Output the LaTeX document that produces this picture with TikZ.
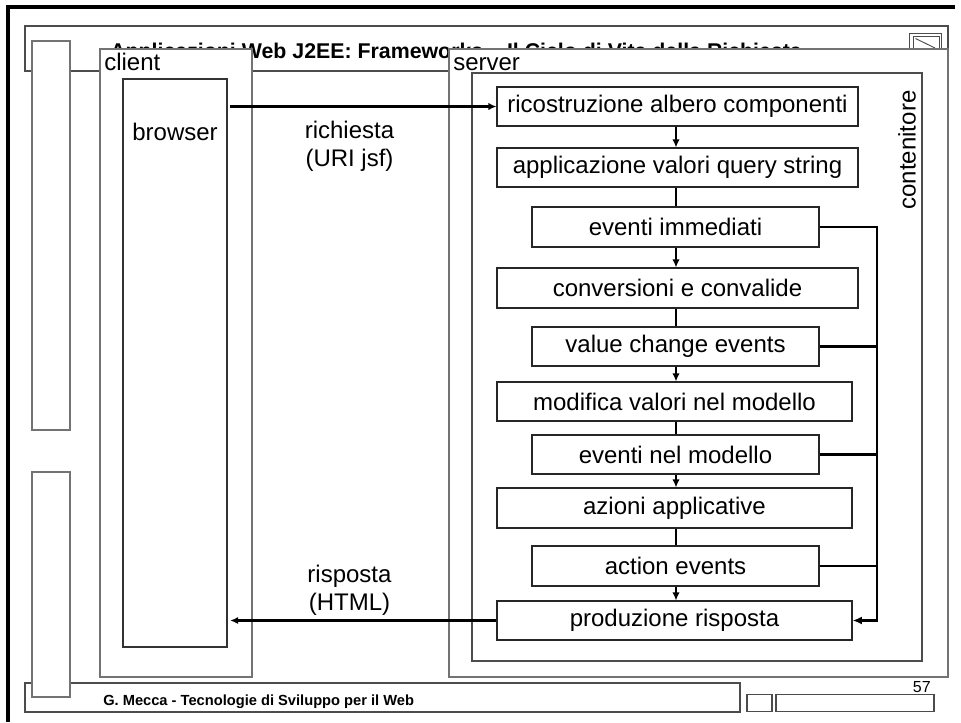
\documentclass[tikz,border=0pt]{standalone}
\usepackage{fontspec}
\setmainfont{Liberation Sans}
\usetikzlibrary{arrows.meta}
\begin{document}
\begin{tikzpicture}[x=0.75pt,y=-0.75pt,
  sz/.style 2 args={minimum width={#1*0.75pt},minimum height={#2*0.75pt}},
  frame/.style={draw=black!55,line width=0.8pt,fill=white,inner sep=0pt},
  pbox/.style={draw=black!85,line width=0.8pt,fill=white,inner sep=0pt,font=\fontsize{18}{21}\selectfont},
  txt/.style={inner sep=0pt,font=\fontsize{18}{21}\selectfont},
  flow/.style={line width=1.6pt,-{Latex[length=6pt,width=5.5pt]}},
  link/.style={line width=1.8pt},
  bus/.style={line width=2.2pt}]
\useasboundingbox (0,0) rectangle (961,722);
% outer border (top and left)
\coordinate (oTL) at (8,7);
\coordinate (oTR) at (955,7);
\coordinate (oBL) at (8,722);
\draw[line width=2.3pt] (oTR) -- (oTL) -- (oBL);
% title bar
\node[frame,draw=black!70,fill=none,sz={923}{45}] (titlebar) at (486.5,48.5) {};
\node[anchor=base west,inner sep=0pt,font=\fontsize{16}{19}\bfseries] (title) at (110,58)
  {Applicazioni Web J2EE: Frameworks -- Il Ciclo di Vita della Richiesta};
% icon
\node[draw=black!70,line width=0.7pt,sz={32}{22},inner sep=0pt] (iconA) at (925,44) {};
\node[draw=black!70,line width=0.7pt,sz={26}{16},inner sep=0pt] (iconB) at (926,44) {};
\draw[black!70,line width=0.7pt] (iconB.north west) ++(3,3) -- (935,48);
% footer
\node[frame,draw=black!70,sz={715}{29}] (footer) at (382.5,697.5) {};
\node[anchor=base west,inner sep=0pt,font=\fontsize{11}{13}\bfseries] (ftext) at (103,705)
  {G. Mecca - Tecnologie di Sviluppo per il Web};
\node[frame,draw=black!70,sz={25}{17}] (fsq) at (759.5,703) {};
\node[frame,draw=black!70,sz={158}{17}] (frect) at (855,703) {};
\node[anchor=base east,inner sep=0pt,font=\fontsize{12}{14}\selectfont] (page) at (931,692) {57};
% sidebars
\node[frame,sz={38}{389}] (side1) at (51,235.5) {};
\node[frame,sz={38}{225}] (side2) at (51,584.5) {};
% client
\node[frame,sz={152}{628}] (client) at (176,363) {};
\node[txt,anchor=base west] (clientlbl) at (104,70) {client};
\node[frame,draw=black!80,sz={104}{568}] (browser) at (175,363) {};
\node[txt] (browserlbl) at (175,132) {browser};
% server
\node[frame,sz={499}{628}] (server) at (698.5,363) {};
\node[txt,anchor=base west] (serverlbl) at (453,70) {server};
\node[frame,draw=black!70,sz={450}{588}] (cont) at (697,367) {};
\node[txt,rotate=90] (contlbl) at (907,150) {contenitore};
% process boxes
\node[pbox,sz={361}{39}] (b1) at (677.5,106.5) {ricostruzione albero componenti};
\node[pbox,sz={361}{39}] (b2) at (677.5,167.5) {applicazione valori query string};
\node[pbox,sz={287}{40}] (b3) at (675.5,227) {eventi immediati};
\node[pbox,sz={361}{40}] (b4) at (677.5,288) {conversioni e convalide};
\node[pbox,sz={287}{39}] (b5) at (675.5,346.5) {value change events};
\node[pbox,sz={355}{39}] (b6) at (674.5,401.5) {modifica valori nel modello};
\node[pbox,sz={287}{39}] (b7) at (675.5,454.5) {eventi nel modello};
\node[pbox,sz={355}{40}] (b8) at (674.5,508) {azioni applicative};
\node[pbox,sz={287}{40}] (b9) at (675.5,566) {action events};
\node[pbox,sz={355}{39}] (b10) at (674.5,620.5) {produzione risposta};
% vertical flow
\coordinate (ax) at (676,0);
\draw[flow] (b1.south -| ax) -- (b2.north -| ax);
\draw[link] (b2.south -| ax) -- (b3.north -| ax);
\draw[flow] (b3.south -| ax) -- (b4.north -| ax);
\draw[link] (b4.south -| ax) -- (b5.north -| ax);
\draw[flow] (b5.south -| ax) -- (b6.north -| ax);
\draw[link] (b6.south -| ax) -- (b7.north -| ax);
\draw[flow] (b7.south -| ax) -- (b8.north -| ax);
\draw[link] (b8.south -| ax) -- (b9.north -| ax);
\draw[flow] (b9.south -| ax) -- (b10.north -| ax);
% bus
\coordinate (bx) at (877,0);
\draw[bus,-{Latex[length=7pt,width=6pt]}] (b3.east) -- (b3.east -| bx) -- (b10.east -| bx) -- (b10.east);
\draw[bus] (b5.east) -- (b5.east -| bx);
\draw[bus] (b7.east) -- (b7.east -| bx);
\draw[bus] (b9.east) -- (b9.east -| bx);
% request / response
\draw[flow] ([xshift=1.5pt]browser.east |- b1.west) -- (b1.west);
\draw[flow,shorten >=2pt] (b10.west) -- (browser.east |- b10.west);
\node[txt,align=center,font=\fontsize{18}{21}\selectfont] (req) at (349.5,146) {richiesta\\(URI jsf)};
\node[txt,align=center,font=\fontsize{18}{21}\selectfont] (resp) at (349.5,590) {risposta\\(HTML)};
\end{tikzpicture}
\end{document}
